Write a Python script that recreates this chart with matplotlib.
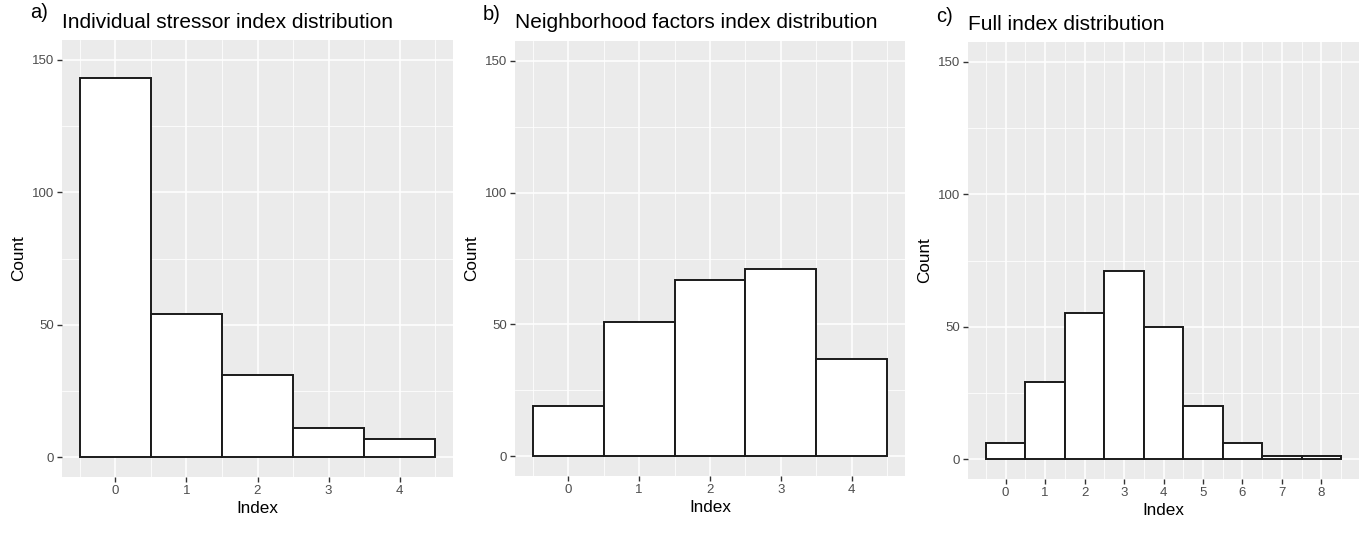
import matplotlib
matplotlib.use("Agg")
import matplotlib.pyplot as plt
import numpy as np

plt.rcParams["font.family"] = ["Liberation Sans", "DejaVu Sans"]

# panel data: index value -> count
stressor_idx = [0, 1, 2, 3, 4]
stressor_cnt = [143, 54, 31, 11, 7]

neigh_idx = [0, 1, 2, 3, 4]
neigh_cnt = [19, 51, 67, 71, 37]

full_idx = [0, 1, 2, 3, 4, 5, 6, 7, 8]
full_cnt = [6, 29, 55, 71, 50, 20, 6, 1, 1]

# tag, title, data, axes box in pixels (x0, y0, x1, y1), title / tag baselines
panels = [
    ("a)", "Individual stressor index distribution", stressor_idx, stressor_cnt,
     [62, 40, 453, 477], 28, 18),
    ("b)", "Neighborhood factors index distribution", neigh_idx, neigh_cnt,
     [515, 41, 905, 476], 27.5, 19.5),
    ("c)", "Full index distribution", full_idx, full_cnt,
     [968, 42, 1359, 479], 30, 21.5),
]

W, H = 1364, 533
fig = plt.figure(figsize=(W / 100, H / 100), dpi=100)


def plot_hist(ax, idx, cnt):
    ax.set_facecolor("#EBEBEB")
    ax.bar(idx, cnt, width=1.0, color="white", edgecolor="#1a1a1a",
           linewidth=1.4, zorder=3)
    lo, hi = idx[0] - 0.5, idx[-1] + 0.5
    pad = 0.05 * (hi - lo)
    ax.set_xlim(lo - pad, hi + pad)
    ax.set_ylim(-7.5, 157.5)
    ax.set_xticks(idx)
    ax.set_xticks(np.arange(lo, hi + 0.01, 1.0), minor=True)
    ax.set_yticks([0, 50, 100, 150])
    ax.set_yticks([25, 75, 125], minor=True)
    ax.grid(which="major", color="white", linewidth=1.1, zorder=0)
    ax.grid(which="minor", color="white", linewidth=0.55, zorder=0)
    ax.set_axisbelow(True)
    for s in ax.spines.values():
        s.set_visible(False)
    ax.tick_params(which="major", length=3.5, width=1.0, color="#333333",
                   labelcolor="#4D4D4D", labelsize=9.5, pad=2)
    ax.tick_params(which="minor", length=0)
    ax.set_xlabel("Index", fontsize=12.3, labelpad=3)
    ax.set_ylabel("Count", fontsize=12.3, labelpad=4)


for tag, title, idx, cnt, (x0, y0, x1, y1), tb, gb in panels:
    ax = fig.add_axes([x0 / W, 1 - y1 / H, (x1 - x0) / W, (y1 - y0) / H])
    plot_hist(ax, idx, cnt)
    fig.text(x0 / W, 1 - tb / H, title, fontsize=15, ha="left",
             va="baseline")
    fig.text((x0 - 32) / W, 1 - gb / H, tag, fontsize=14.5, ha="left",
             va="baseline")

fig.savefig("out.png", dpi=100)
